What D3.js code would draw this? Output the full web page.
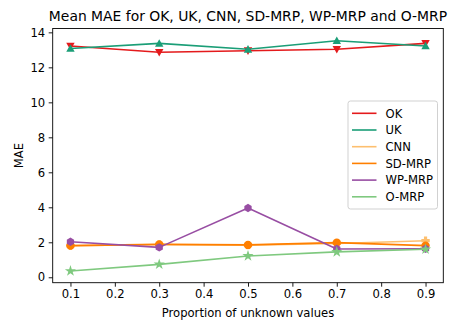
<!DOCTYPE html>
<html>
<head>
<meta charset="utf-8">
<script src="https://cdn.jsdelivr.net/npm/d3@7"></script>
<style>
  html, body { margin: 0; padding: 0; background: #fff; }
  svg { display: block; font-family: "DejaVu Sans", sans-serif; }
</style>
</head>
<body>
<svg id="chart" width="449" height="321"></svg>
<script>
// Proportion of unknown values (x) and mean MAE per method
const proportions = [0.1, 0.3, 0.5, 0.7, 0.9];
const xTicks = [0.1, 0.2, 0.3, 0.4, 0.5, 0.6, 0.7, 0.8, 0.9];
const yTicks = [0, 2, 4, 6, 8, 10, 12, 14];

const okValues    = [13.22, 12.86, 12.95, 13.03, 13.37];
const ukValues    = [13.08, 13.37, 13.03, 13.52, 13.22];
const cnnValues   = [1.80, 1.87, 1.84, 1.93, 2.09];
const sdmrpValues = [1.81, 1.88, 1.85, 1.98, 1.81];
const wpmrpValues = [2.03, 1.71, 3.96, 1.62, 1.63];
const omrpValues  = [0.36, 0.74, 1.22, 1.45, 1.60];

const seriesNames = ["OK", "UK", "CNN", "SD-MRP", "WP-MRP", "O-MRP"];
const seriesValues = [okValues, ukValues, cnnValues, sdmrpValues, wpmrpValues, omrpValues];
const seriesColors = ["#e41a1c", "#1b9e77", "#fdbf6f", "#ff7f00", "#984ea3", "#7fc97f"];
const seriesMarkers = ["triDown", "triUp", "plus", "circle", "hexagon", "star"];

const svg = d3.select("#chart");
const margin = { left: 52.7, right: 449 - 443.3, top: 28.5, bottom: 321 - 282.7 };
const W = 449, H = 321;
const labelSize = "11.6px";

const x = d3.scaleLinear().domain([0.06, 0.94]).range([margin.left, W - margin.right]);
const y = d3.scaleLinear().domain([-0.31, 14.22]).range([H - margin.bottom, margin.top]);

// Axes
const xAxis = d3.axisBottom(x).tickValues(xTicks).tickFormat(d3.format(".1f")).tickSizeOuter(0).tickSize(4).tickPadding(3.5);
const yAxis = d3.axisLeft(y).tickValues(yTicks).tickFormat(d3.format("d")).tickSizeOuter(0).tickSize(4).tickPadding(3.5);

const gx = svg.append("g").attr("transform", `translate(0,${H - margin.bottom})`).call(xAxis);
const gy = svg.append("g").attr("transform", `translate(${margin.left},0)`).call(yAxis);
[gx, gy].forEach(g => {
  g.select(".domain").remove();
  g.selectAll(".tick line").attr("stroke", "#000").attr("stroke-width", 0.9);
  g.selectAll(".tick text").attr("fill", "#000").style("font-size", labelSize).style("font-family", "DejaVu Sans");
});

// Frame
svg.append("rect")
  .attr("x", margin.left).attr("y", margin.top)
  .attr("width", W - margin.left - margin.right)
  .attr("height", H - margin.top - margin.bottom)
  .attr("fill", "none").attr("stroke", "#000").attr("stroke-width", 0.9);

// Marker shapes
function markerPath(kind, r) {
  if (kind === "triDown") return `M${-r},${-r * 0.8}L${r},${-r * 0.8}L0,${r}Z`;
  if (kind === "triUp") return `M${-r},${r * 0.8}L${r},${r * 0.8}L0,${-r}Z`;
  if (kind === "circle") return d3.symbol(d3.symbolCircle, Math.PI * r * r)();
  if (kind === "star") return d3.symbol(d3.symbolStar, r * r * 2.2)();
  if (kind === "plus") {
    const a = r, b = r * 0.38;
    return `M${-b},${-a}H${b}V${-b}H${a}V${b}H${b}V${a}H${-b}V${b}H${-a}V${-b}H${-b}Z`;
  }
  if (kind === "hexagon") {
    const pts = d3.range(6).map(i => {
      const t = Math.PI / 2 + i * Math.PI / 3;
      return [r * Math.cos(t), r * Math.sin(t)];
    });
    return "M" + pts.map(p => p.join(",")).join("L") + "Z";
  }
}

const line = d3.line().x((d, i) => x(proportions[i])).y(d => y(d));
const plot = svg.append("g");

seriesValues.forEach((vals, s) => {
  const g = plot.append("g");
  g.append("path").datum(vals).attr("d", line)
    .attr("fill", "none").attr("stroke", seriesColors[s]).attr("stroke-width", 1.6)
    .attr("stroke-linejoin", "round");
  g.selectAll("path.m").data(vals).join("path").attr("class", "m")
    .attr("transform", (d, i) => `translate(${x(proportions[i])},${y(d)})`)
    .attr("d", markerPath(seriesMarkers[s], 4.2))
    .attr("fill", seriesColors[s]);
});

// Legend
const legend = svg.append("g");
legend.append("rect")
  .attr("x", 348).attr("y", 101).attr("width", 89.5).attr("height", 108).attr("rx", 2.5)
  .attr("fill", "#fff").attr("fill-opacity", 0.8).attr("stroke", "#ccc").attr("stroke-width", 0.9);
seriesNames.forEach((name, i) => {
  const yy = 113.3 + i * 16.7;
  legend.append("line").attr("x1", 352).attr("x2", 376.5).attr("y1", yy).attr("y2", yy)
    .attr("stroke", seriesColors[i]).attr("stroke-width", 1.6);
  legend.append("text").attr("x", 385.5).attr("y", yy + 4.2).text(name)
    .style("font-size", labelSize).attr("fill", "#000");
});

// Title and axis labels
svg.append("text").attr("x", (margin.left + W - margin.right) / 2).attr("y", 21)
  .attr("text-anchor", "middle").style("font-size", "13.9px").text("Mean MAE for OK, UK, CNN, SD-MRP, WP-MRP and O-MRP");
svg.append("text").attr("x", (margin.left + W - margin.right) / 2).attr("y", 317)
  .attr("text-anchor", "middle").style("font-size", labelSize).text("Proportion of unknown values");
svg.append("text").attr("transform", `translate(23,${(margin.top + H - margin.bottom) / 2}) rotate(-90)`)
  .attr("text-anchor", "middle").style("font-size", labelSize).text("MAE");
</script>
</body>
</html>
